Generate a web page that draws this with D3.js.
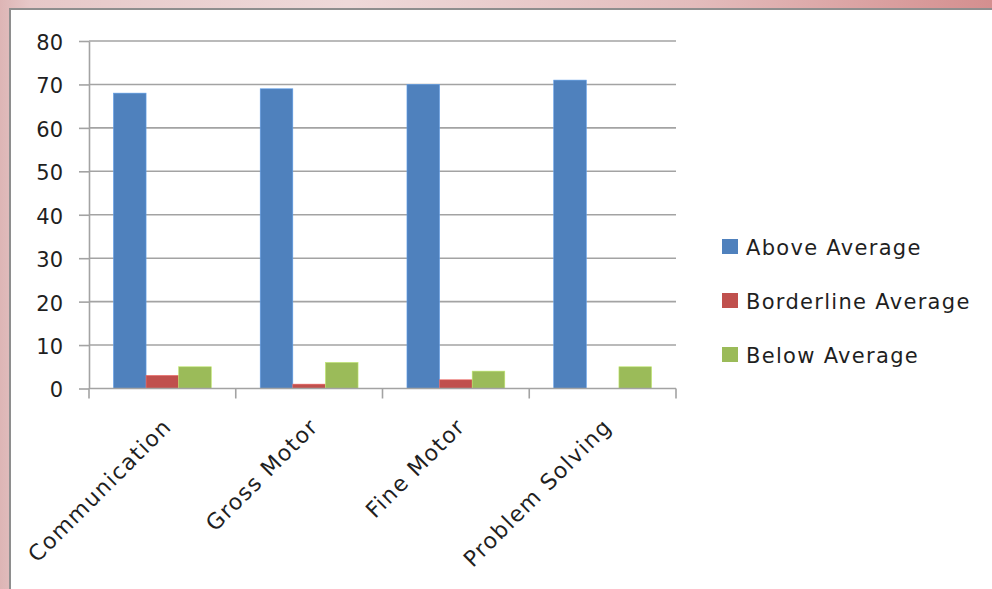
<!DOCTYPE html>
<html>
<head>
<meta charset="utf-8">
<script src="https://cdn.jsdelivr.net/npm/d3@7/dist/d3.min.js"></script>
<style>
  html, body { margin: 0; padding: 0; background: #ffffff; }
  svg { display: block; }
</style>
</head>
<body>
<svg id="chart" width="992" height="589"></svg>
<script>
const categories = ["Communication", "Gross Motor", "Fine Motor", "Problem Solving"];
const seriesNames = ["Above Average", "Borderline Average", "Below Average"];
const aboveAverage = [68, 69, 70, 71];
const borderlineAverage = [3, 1, 2, 0];
const belowAverage = [5, 6, 4, 5];
const yTickValues = [0, 10, 20, 30, 40, 50, 60, 70, 80];
const seriesColors = ["#4f81bd", "#c0504d", "#9bbb59"];

const seriesValues = [aboveAverage, borderlineAverage, belowAverage];
const FONT = "'DejaVu Sans', sans-serif";
const TEXT_COLOR = "#1f1f1f";

const svg = d3.select("#chart");

// page background (pink gradient frame)
const defs = svg.append("defs");
const grad = defs.append("linearGradient").attr("id", "bg").attr("x1", "0").attr("x2", "1").attr("y1", "0").attr("y2", "0");
grad.append("stop").attr("offset", "0").attr("stop-color", "#ddb5b5");
grad.append("stop").attr("offset", "0.03").attr("stop-color", "#e6c8c8");
grad.append("stop").attr("offset", "0.35").attr("stop-color", "#eed9d9");
grad.append("stop").attr("offset", "0.7").attr("stop-color", "#e3bcbc");
grad.append("stop").attr("offset", "1").attr("stop-color", "#d48f8f");
svg.append("rect").attr("x", 0).attr("y", 0).attr("width", 992).attr("height", 589).attr("fill", "url(#bg)");

// white chart panel
svg.append("rect").attr("x", 10).attr("y", 9).attr("width", 1000).attr("height", 600)
  .attr("fill", "#ffffff").attr("stroke", "#8e8e8e").attr("stroke-width", 2);

const plot = { left: 89, right: 676, top: 41, bottom: 388.5 };

const x = d3.scaleBand().domain(categories).range([plot.left, plot.right]).paddingInner(0).paddingOuter(0);
const xs = d3.scaleBand().domain(seriesNames).range([0, x.bandwidth()]).paddingInner(0).paddingOuter(0.75);
const y = d3.scaleLinear().domain([0, 80]).range([plot.bottom, plot.top]);

const gridColor = "#a3a3a3";

// gridlines
svg.append("g").selectAll("line").data(yTickValues.filter(d => d > 0)).join("line")
  .attr("x1", plot.left).attr("x2", plot.right)
  .attr("y1", d => y(d)).attr("y2", d => y(d))
  .attr("stroke", gridColor).attr("stroke-width", 1.6);

// bars
const groups = svg.append("g").selectAll("g").data(categories).join("g")
  .attr("transform", c => `translate(${x(c)},0)`);
groups.selectAll("rect").data((c, ci) => seriesNames.map((s, si) => ({ s, si, v: seriesValues[si][ci] })))
  .join("rect")
  .attr("x", d => xs(d.s))
  .attr("width", xs.bandwidth())
  .attr("y", d => y(d.v))
  .attr("height", d => y(0) - y(d.v))
  .attr("fill", d => seriesColors[d.si])
  .attr("stroke", d => d.v > 0 ? d3.color(seriesColors[d.si]).brighter(0.6) : "none")
  .attr("stroke-width", 0.6);

// y axis
const yAxis = svg.append("g").attr("transform", `translate(${plot.left},0)`)
  .call(d3.axisLeft(y).tickValues(yTickValues).tickSize(10).tickPadding(16).tickSizeOuter(0));
yAxis.select(".domain").attr("stroke", gridColor).attr("stroke-width", 1.6);
yAxis.selectAll(".tick line").attr("stroke", gridColor).attr("stroke-width", 1.6);
yAxis.selectAll(".tick text").attr("font-family", FONT).attr("font-size", 21).attr("fill", TEXT_COLOR).attr("dy", "0.4em");

// x axis line & ticks at band boundaries
const xAxis = svg.append("g");
xAxis.append("line").attr("x1", plot.left).attr("x2", plot.right).attr("y1", y(0)).attr("y2", y(0))
  .attr("stroke", gridColor).attr("stroke-width", 1.6);
const boundaries = categories.map(c => x(c)).concat([x.range()[1]]);
xAxis.selectAll("line.tk").data(boundaries).join("line").attr("class", "tk")
  .attr("x1", d => d).attr("x2", d => d).attr("y1", y(0)).attr("y2", y(0) + 10)
  .attr("stroke", gridColor).attr("stroke-width", 1.6);
xAxis.selectAll("text").data(categories).join("text")
  .attr("transform", c => `translate(${x(c) + x.bandwidth() / 2 + 5},${y(0) + 34}) rotate(-45)`)
  .attr("text-anchor", "end").attr("dy", "0.35em")
  .attr("font-family", FONT).attr("font-size", 22).attr("letter-spacing", 1.4)
  .attr("fill", TEXT_COLOR)
  .text(c => c);

// legend
const legend = svg.append("g").attr("transform", "translate(722,0)");
const legendY = d3.scalePoint().domain(seriesNames).range([247, 355]);
const li = legend.selectAll("g").data(seriesNames).join("g")
  .attr("transform", s => `translate(0,${legendY(s)})`);
li.append("rect").attr("x", 0).attr("y", -8).attr("width", 16).attr("height", 15)
  .attr("fill", (s, i) => seriesColors[i]);
li.append("text").attr("x", 24).attr("y", 0).attr("dy", "0.36em")
  .attr("font-family", FONT).attr("font-size", 21).attr("letter-spacing", 1.3)
  .attr("fill", TEXT_COLOR).text(s => s);
</script>
</body>
</html>
